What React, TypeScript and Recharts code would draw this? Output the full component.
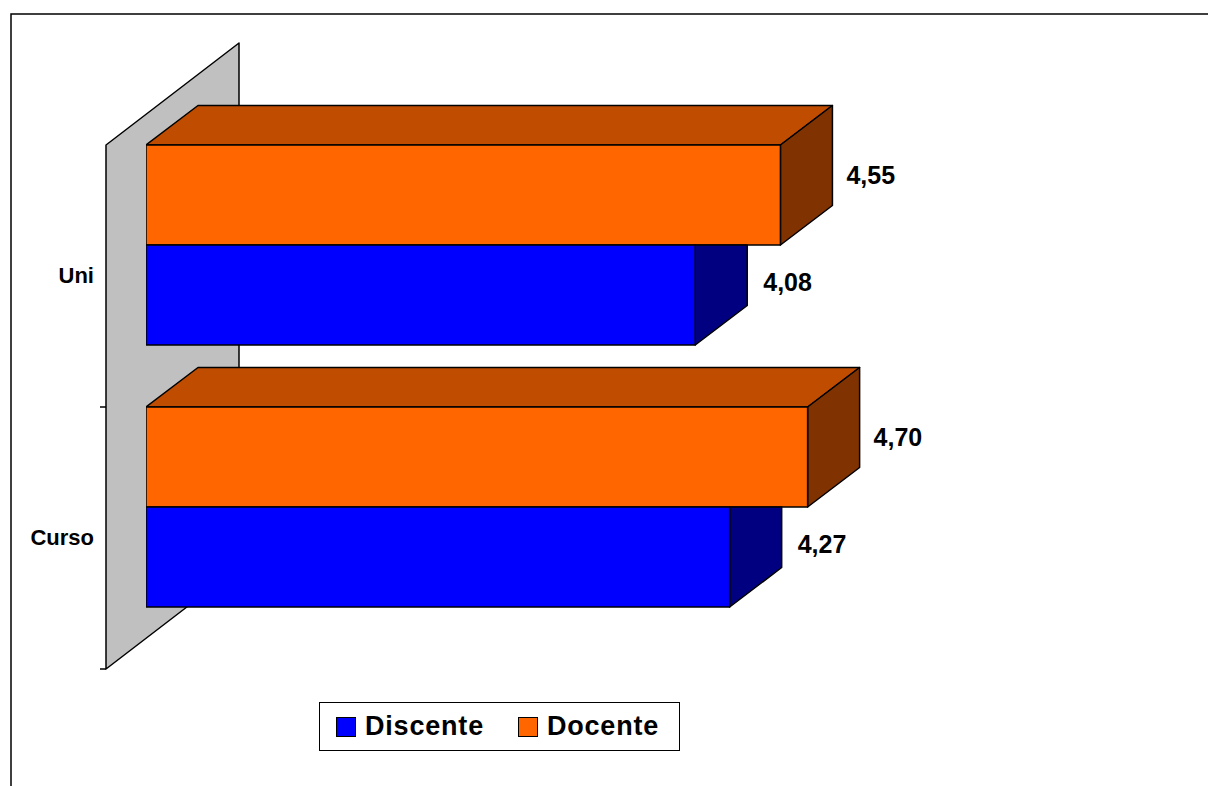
import React from "react";
import { BarChart, Bar, XAxis, YAxis, Legend, LabelList } from "recharts";

const categories = ["Uni", "Curso"];
const discente = [4.08, 4.27];
const docente = [4.55, 4.7];
const valueDomain = [1.05, 5];
const legendOrder = ["Discente", "Docente"];

const data = categories.map((name, i) => ({
  name,
  Discente: discente[i],
  Docente: docente[i],
}));

const W = 1208;
const H = 786;
const FONT = '"Liberation Sans", Arial, sans-serif';

// plot area (front faces of the bars)
const PLOT_LEFT = 146;
const PLOT_TOP = 114;
const PLOT_BOTTOM = 638;
const PLOT_RIGHT = 862;
const LEGEND_H = 49;

// 3d depth of the bars
const DX = 52;
const DY = 39.5;

// front plane of the category wall, and its depth
const FX = PLOT_LEFT - 40;
const FY_TOP = PLOT_TOP + 31;
const FY_BOTTOM = PLOT_BOTTOM + 31;
const WX = 133;
const WY = 102;

const COLORS = {
  Docente: { front: "#FF6600", top: "#C04C00", side: "#803300" },
  Discente: { front: "#0000FF", top: "#0000A0", side: "#000080" },
};

const fmt = (v: number) => v.toFixed(2).replace(".", ",");

function UpperBox(props: any) {
  const { x, y, width, height } = props;
  const c = COLORS.Docente;
  return (
    <g stroke="#000" strokeWidth={1.5} strokeLinejoin="round">
      <polygon
        points={`${x},${y} ${x + DX},${y - DY} ${x + width + DX},${y - DY} ${x + width},${y}`}
        fill={c.top}
      />
      <polygon
        points={`${x + width},${y} ${x + width + DX},${y - DY} ${x + width + DX},${y + height - DY} ${x + width},${y + height}`}
        fill={c.side}
      />
      <rect x={x} y={y} width={width} height={height} fill={c.front} />
    </g>
  );
}

// lower bar: its top face sits behind the bar above, so the side is cut at the front top edge
function LowerBox(props: any) {
  const { x, y, width, height } = props;
  const c = COLORS.Discente;
  return (
    <g stroke="#000" strokeWidth={1.5} strokeLinejoin="round">
      <polygon
        points={`${x + width},${y} ${x + width + DX},${y} ${x + width + DX},${y + height - DY} ${x + width},${y + height}`}
        fill={c.side}
      />
      <rect x={x} y={y} width={width} height={height} fill={c.front} />
    </g>
  );
}

function UpperLabel(props: any) {
  const { x, y, width, height, value } = props;
  return (
    <text
      x={x + width + DX + 14}
      y={y + height / 2 - DY / 2}
      dominantBaseline="central"
      fontFamily={FONT}
      fontWeight="bold"
      fontSize={25}
      fill="#000"
    >
      {fmt(value)}
    </text>
  );
}

function LowerLabel(props: any) {
  const { x, y, width, height, value } = props;
  return (
    <text
      x={x + width + DX + 16}
      y={y + height / 2 - 13}
      dominantBaseline="central"
      fontFamily={FONT}
      fontWeight="bold"
      fontSize={25}
      fill="#000"
    >
      {fmt(value)}
    </text>
  );
}

function CategoryTick(props: any) {
  const { y, payload } = props;
  return (
    <text
      x={FX - 12}
      y={y + 30}
      textAnchor="end"
      dominantBaseline="central"
      fontFamily={FONT}
      fontWeight="bold"
      fontSize={22}
      fill="#000"
    >
      {payload.value}
    </text>
  );
}

function LegendBox(props: any) {
  const items = [...(props.payload || [])].sort(
    (a: any, b: any) => legendOrder.indexOf(a.value) - legendOrder.indexOf(b.value)
  );
  return (
    <div
      style={{
        boxSizing: "border-box",
        height: LEGEND_H,
        width: 361,
        border: "1.5px solid #000",
        background: "#fff",
        display: "flex",
        alignItems: "center",
        paddingLeft: 16,
        fontFamily: FONT,
        fontWeight: "bold",
        fontSize: 27,
        letterSpacing: 0.8,
        color: "#000",
      }}
    >
      {items.map((it: any, i: number) => (
        <div
          key={it.value}
          style={{ display: "flex", alignItems: "center", marginLeft: i === 0 ? 0 : 34 }}
        >
          <span
            style={{
              display: "inline-block",
              boxSizing: "border-box",
              width: 20,
              height: 20,
              border: "1px solid #000",
              background: COLORS[it.value as keyof typeof COLORS].front,
              marginRight: 9,
            }}
          />
          <span>{it.value}</span>
        </div>
      ))}
    </div>
  );
}

function Backdrop() {
  const ticks = [FY_TOP + (FY_BOTTOM - FY_TOP) / 2, FY_BOTTOM];
  return (
    <svg
      width={W}
      height={H}
      style={{ position: "absolute", left: 0, top: 0 }}
    >
      <polyline
        points={`${W},14 11,14 11,${H}`}
        fill="none"
        stroke="#000"
        strokeWidth={1.5}
      />
      <polygon
        points={`${FX},${FY_TOP} ${FX + WX},${FY_TOP - WY} ${FX + WX},${FY_BOTTOM - WY} ${FX},${FY_BOTTOM}`}
        fill="#C0C0C0"
        stroke="#000"
        strokeWidth={1.5}
        strokeLinejoin="round"
      />
      {ticks.map((t) => (
        <line key={t} x1={FX - 6} x2={FX} y1={t} y2={t} stroke="#000" strokeWidth={1.5} />
      ))}
    </svg>
  );
}

export default function App() {
  return (
    <div
      style={{
        position: "absolute",
        left: 0,
        top: 0,
        width: W,
        height: H,
        background: "#fff",
        overflow: "hidden",
      }}
    >
      <Backdrop />
      <div style={{ position: "absolute", left: 0, top: 0 }}>
        <BarChart
          width={W}
          height={H}
          data={data}
          layout="vertical"
          barCategoryGap={31}
          barGap={0}
          margin={{
            top: PLOT_TOP,
            right: W - PLOT_RIGHT,
            bottom: H - PLOT_BOTTOM - LEGEND_H,
            left: PLOT_LEFT - 60,
          }}
        >
          <XAxis type="number" domain={valueDomain} allowDataOverflow hide />
          <YAxis
            type="category"
            dataKey="name"
            width={60}
            axisLine={false}
            tickLine={false}
            tick={<CategoryTick />}
          />
          <Legend
            verticalAlign="bottom"
            content={<LegendBox />}
            wrapperStyle={{ left: 319, bottom: 35, width: "auto" }}
          />
          <Bar dataKey="Docente" fill={COLORS.Docente.front} shape={<UpperBox />} isAnimationActive={false}>
            <LabelList dataKey="Docente" content={<UpperLabel />} />
          </Bar>
          <Bar dataKey="Discente" fill={COLORS.Discente.front} shape={<LowerBox />} isAnimationActive={false}>
            <LabelList dataKey="Discente" content={<LowerLabel />} />
          </Bar>
        </BarChart>
      </div>
    </div>
  );
}
